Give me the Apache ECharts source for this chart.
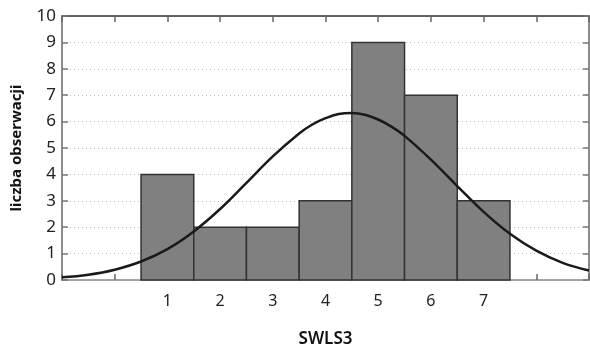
<!DOCTYPE html>
<html><head><meta charset="utf-8">
<script src="https://cdn.jsdelivr.net/npm/echarts@6/dist/echarts.min.js"></script>
<style>html,body{margin:0;padding:0;background:#fff}#c{width:590px;height:347px}</style>
</head><body><div id="c"></div>
<script>
const categories = [1, 2, 3, 4, 5, 6, 7];
const counts = [4, 2, 2, 3, 9, 7, 3];
const curveX = [-1, -0.5, 0, 0.5, 1, 1.5, 2, 2.5, 3, 3.5, 3.75, 4, 4.25, 4.5, 4.75, 5, 5.25, 5.5, 6, 6.5, 7, 7.5, 8, 8.5, 9];
const curveY = [0.1, 0.2, 0.39, 0.7, 1.17, 1.84, 2.69, 3.68, 4.68, 5.55, 5.89, 6.13, 6.29, 6.33, 6.26, 6.08, 5.81, 5.46, 4.56, 3.56, 2.58, 1.75, 1.11, 0.65, 0.36];
const xLabels = ['1', '2', '3', '4', '5', '6', '7'];
const yTicks = [0, 1, 2, 3, 4, 5, 6, 7, 8, 9, 10];

const chart = echarts.init(document.getElementById('c'));
const font = 'Noto Sans';
chart.setOption({
  animation: false,
  grid: { left: 62, right: 1, top: 16, bottom: 67, show: false, outerBoundsMode: 'none', containLabel: false },
  xAxis: [{
    type: 'value', min: -1, max: 9, interval: 1, position: 'bottom',
    name: 'SWLS3', nameLocation: 'middle', nameGap: 51,
    nameTextStyle: { fontFamily: font, fontSize: 17, fontWeight: 600, color: '#111' },
    axisLine: { show: true, onZero: false, lineStyle: { color: '#888', width: 1.5 } },
    axisTick: { show: true, inside: true, length: 6, lineStyle: { color: '#666', width: 1.5 } },
    axisLabel: { fontFamily: font, fontSize: 16, color: '#222', margin: 13,
      formatter: v => xLabels.includes(String(v)) ? String(v) : '' },
    splitLine: { show: false }
  }, {
    type: 'value', min: -1, max: 9, interval: 1, position: 'top',
    axisLine: { show: true, onZero: false, lineStyle: { color: '#333', width: 1.5 } },
    axisTick: { show: true, inside: true, length: 6, lineStyle: { color: '#666', width: 1.5 } },
    axisLabel: { show: false }, splitLine: { show: false }
  }],
  yAxis: [{
    type: 'value', min: 0, max: 10, interval: 1, position: 'left',
    name: 'liczba obserwacji', nameLocation: 'middle', nameGap: 38,
    nameTextStyle: { fontFamily: font, fontSize: 15, fontWeight: 'bold', color: '#111' },
    axisLine: { show: true, onZero: false, lineStyle: { color: '#666', width: 1.5 } },
    axisTick: { show: true, inside: true, length: 6, lineStyle: { color: '#777', width: 1.5 } },
    axisLabel: { fontFamily: font, fontSize: 17, color: '#222', margin: 6,
      formatter: v => yTicks.includes(v) ? String(v) : '' },
    splitLine: { show: true, lineStyle: { color: '#bbb', type: [1, 3], width: 1 } }
  }, {
    type: 'value', min: 0, max: 10, interval: 1, position: 'right',
    axisLine: { show: true, onZero: false, lineStyle: { color: '#666', width: 1.5 } },
    axisTick: { show: true, inside: true, length: 6, lineStyle: { color: '#777', width: 1.5 } },
    axisLabel: { show: false }, splitLine: { show: false }
  }],
  series: [{
    type: 'custom',
    xAxisIndex: 0, yAxisIndex: 0,
    data: categories.map((c, i) => [c, counts[i]]),
    renderItem: (params, api) => {
      const x = api.value(0), y = api.value(1);
      const p0 = api.coord([x - 0.5, y]);
      const p1 = api.coord([x + 0.5, 0]);
      return {
        type: 'rect',
        shape: { x: p0[0], y: p0[1], width: p1[0] - p0[0], height: p1[1] - p0[1] },
        style: { fill: '#808080', stroke: '#333', lineWidth: 1.5 }
      };
    },
    z: 2
  }, {
    type: 'line', xAxisIndex: 0, yAxisIndex: 0,
    data: curveX.map((x, i) => [x, curveY[i]]),
    smooth: 0.4, showSymbol: false,
    lineStyle: { color: '#1a1a1a', width: 2.5 },
    z: 3
  }]
});
</script></body></html>
